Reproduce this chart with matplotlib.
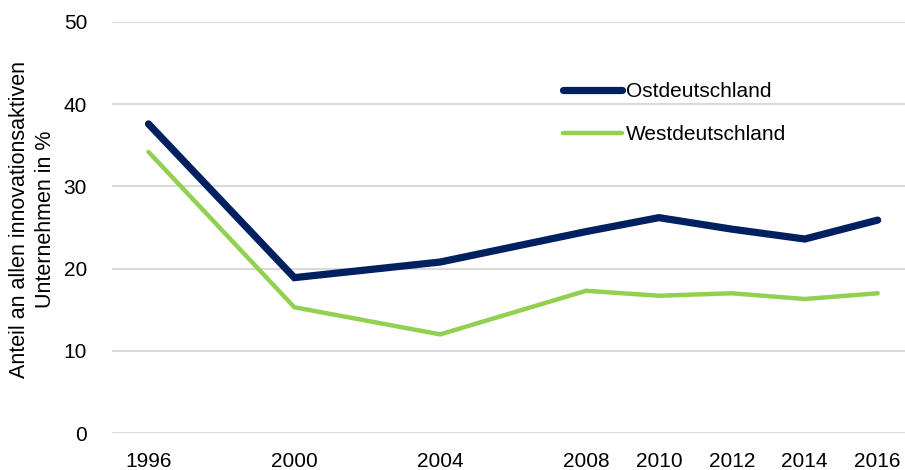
import matplotlib
matplotlib.use("Agg")
import matplotlib.pyplot as plt

years = [1996, 2000, 2004, 2008, 2010, 2012, 2014, 2016]
ost = [37.6, 18.9, 20.8, 24.5, 26.2, 24.8, 23.6, 25.9]
west = [34.2, 15.3, 12.0, 17.3, 16.7, 17.0, 16.3, 17.0]
yticks = [0, 10, 20, 30, 40, 50]
ylabel = "Anteil an allen innovationsaktiven\nUnternehmen in %"

plt.rcParams['font.family'] = ['Liberation Sans', 'DejaVu Sans']

fig = plt.figure(figsize=(9.05, 4.70), dpi=100)
ax = fig.add_axes([0.1238, 0.0787, 0.8762, 0.8745])

ax.plot(years, ost, color='#002060', lw=5.2, solid_capstyle='round',
        solid_joinstyle='miter', label='Ostdeutschland', zorder=3)
ax.plot(years, west, color='#92D050', lw=3.2, solid_capstyle='round',
        solid_joinstyle='miter', label='Westdeutschland', zorder=3)

ax.set_xlim(1995.0, 2016.75)
ax.set_ylim(0, 50)
ax.set_yticks(yticks)
ax.set_xticks(years)
ax.set_xticklabels([str(y) for y in years])
ax.yaxis.grid(True, color='#d9d9d9', lw=1.5)
ax.set_axisbelow(True)
for s in ax.spines.values():
    s.set_visible(False)
ax.tick_params(length=0, labelsize=15, colors='#000000')
ax.tick_params(axis='y', pad=18)
ax.tick_params(axis='x', pad=14)
ax.set_ylabel(ylabel, fontsize=15.5, linespacing=1.3)
ax.yaxis.set_label_coords(-0.071, 0.52)

leg = ax.legend(loc='upper left', bbox_to_anchor=(563/905, 1 - 82/470),
                bbox_transform=fig.transFigure, frameon=False, fontsize=15,
                handlelength=2.85, handletextpad=0.15, labelspacing=1.15,
                borderaxespad=0, borderpad=0)

fig.savefig('out.png', dpi=100)
